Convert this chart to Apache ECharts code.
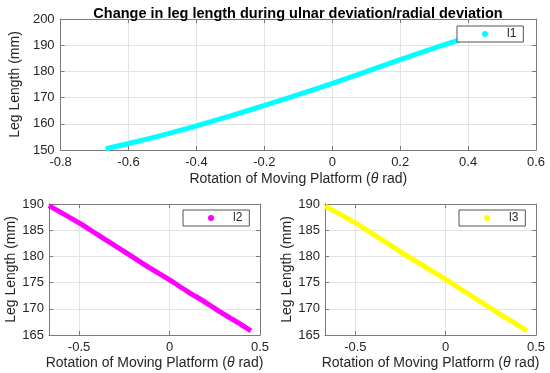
<!DOCTYPE html>
<html>
<head>
<meta charset="utf-8">
<script src="https://cdn.jsdelivr.net/npm/echarts@6/dist/echarts.min.js"></script>
<style>html,body{margin:0;padding:0;background:#fff}#c{width:550px;height:373px}</style>
</head>
<body>
<div id="c"></div>
<script>
const titleText = 'Change in leg length during ulnar deviation/radial deviation';
const yName = 'Leg Length (mm)';
const legendNames = ['l1', 'l2', 'l3'];

const theta1 = [-0.667, -0.6, -0.5, -0.4, -0.3, -0.2, -0.1, 0, 0.1, 0.2, 0.3, 0.4, 0.45];
const len1   = [150.5, 152.5, 155.7, 159.2, 163.0, 167.0, 171.1, 175.4, 179.9, 184.5, 188.9, 193.0, 195.0];

const theta2 = [-0.667, -0.5, -0.4, -0.3, -0.2, -0.1, 0, 0.1, 0.2, 0.3, 0.4, 0.45];
const len2   = [189.7, 186.4, 184.2, 182.0, 179.8, 177.6, 175.5, 173.3, 171.2, 169.0, 166.9, 165.8];

const theta3 = [-0.667, -0.5, -0.4, -0.3, -0.2, -0.1, 0, 0.1, 0.2, 0.3, 0.4, 0.45];
const len3   = [189.6, 186.4, 184.2, 182.0, 179.8, 177.7, 175.6, 173.4, 171.2, 169.0, 166.9, 165.8];

const xTicksBottom = [-0.5, 0, 0.5];

const FONT = 'Liberation Sans, Arial, sans-serif';
const lineCol = '#7a7a7a';
const labCol = '#262626';
const gridCol = '#e3e3e3';

function pairs(xs, ys) { return xs.map((x, i) => [x, ys[i]]); }

const xNameText = 'Rotation of Moving Platform ({t|θ} rad)';
const nameStyle = {fontFamily: FONT, fontSize: 14, color: labCol, rich: {t: {fontFamily: FONT, fontSize: 14, fontStyle: 'italic', color: labCol}}};

function mainX(gi, min, max, interval, custom, nameGap) {
  const ax = {
    type: 'value', gridIndex: gi, min: min, max: max, position: 'bottom',
    name: xNameText, nameLocation: 'middle', nameGap: nameGap, nameTextStyle: nameStyle,
    axisLine: {show: true, onZero: false, lineStyle: {color: lineCol, width: 1}},
    axisTick: {show: true, inside: true, length: 4, lineStyle: {color: lineCol}},
    axisLabel: {show: true, margin: 6, fontFamily: FONT, fontSize: 13, color: labCol, showMinLabel: true, showMaxLabel: true},
    splitLine: {show: true, lineStyle: {color: gridCol, width: 1}}
  };
  if (custom) {
    ax.axisTick.customValues = custom;
    ax.axisLabel.customValues = custom;
  } else {
    ax.interval = interval;
  }
  return ax;
}
function topX(gi, min, max, interval, custom) {
  const ax = {
    type: 'value', gridIndex: gi, min: min, max: max, position: 'top',
    axisLine: {show: true, onZero: false, lineStyle: {color: lineCol, width: 1}},
    axisTick: {show: true, inside: true, length: 4, lineStyle: {color: lineCol}},
    axisLabel: {show: false},
    splitLine: {show: false}
  };
  if (custom) { ax.axisTick.customValues = custom; ax.axisLabel.customValues = custom; }
  else ax.interval = interval;
  return ax;
}
function mainY(gi, min, max, interval, nameGap, margin) {
  return {
    type: 'value', gridIndex: gi, min: min, max: max, interval: interval, position: 'left',
    name: yName, nameLocation: 'middle', nameGap: nameGap, nameRotate: 90,
    nameTextStyle: {fontFamily: FONT, fontSize: 14, color: labCol},
    axisLine: {show: true, onZero: false, lineStyle: {color: lineCol, width: 1}},
    axisTick: {show: true, inside: true, length: 4, lineStyle: {color: lineCol}},
    axisLabel: {show: true, margin: margin, fontFamily: FONT, fontSize: 13, color: labCol},
    splitLine: {show: true, lineStyle: {color: gridCol, width: 1}}
  };
}
function rightY(gi, min, max, interval) {
  return {
    type: 'value', gridIndex: gi, min: min, max: max, interval: interval, position: 'right',
    axisLine: {show: true, onZero: false, lineStyle: {color: lineCol, width: 1}},
    axisTick: {show: true, inside: true, length: 4, lineStyle: {color: lineCol}},
    axisLabel: {show: false},
    splitLine: {show: false}
  };
}
function legend(name, left, top) {
  return {
    data: [{name: name, icon: 'circle'}],
    left: left, top: top, orient: 'horizontal',
    itemWidth: 6, itemHeight: 6,
    backgroundColor: '#fff', borderColor: '#555', borderWidth: 1, borderRadius: 0,
    padding: [2, 7, 2, 25],
    selectedMode: false,
    textStyle: {fontFamily: FONT, fontSize: 12, color: labCol, lineHeight: 12, padding: [0, 0, 0, 14]}
  };
}

const chart = echarts.init(document.getElementById('c'), null, {renderer: 'canvas'});
const colors = ['#00ffff', '#ff00ff', '#ffff00'];

chart.setOption({
  animation: false,
  backgroundColor: '#ffffff',
  title: {
    text: titleText, left: 293, top: 1, textAlign: 'center',
    textStyle: {fontFamily: FONT, fontSize: 14.5, fontWeight: 'bold', color: '#000'}
  },
  grid: [
    {left: 50, top: 19, width: 486, height: 131},
    {left: 49, top: 204, width: 211, height: 131},
    {left: 325, top: 204, width: 211, height: 131}
  ],
  xAxis: [
    mainX(0, -0.8, 0.6, 0.2, null, 22),
    mainX(1, -0.666, 0.5, null, xTicksBottom, 21),
    mainX(2, -0.668, 0.5, null, xTicksBottom, 21),
    topX(0, -0.8, 0.6, 0.2, null),
    topX(1, -0.666, 0.5, null, xTicksBottom),
    topX(2, -0.668, 0.5, null, xTicksBottom)
  ],
  yAxis: [
    mainY(0, 150, 200, 10, 31, 6),
    mainY(1, 165, 190, 5, 30, 5),
    mainY(2, 165, 190, 5, 30, 5),
    rightY(0, 150, 200, 10),
    rightY(1, 165, 190, 5),
    rightY(2, 165, 190, 5)
  ],
  legend: [
    legend(legendNames[0], 457, 26),
    legend(legendNames[1], 183, 210),
    legend(legendNames[2], 459, 210)
  ],
  series: [
    {name: legendNames[0], type: 'line', xAxisIndex: 0, yAxisIndex: 0, data: pairs(theta1, len1), smooth: 0.3, showSymbol: false, color: colors[0], lineStyle: {width: 5, color: colors[0]}, z: 3},
    {name: legendNames[1], type: 'line', xAxisIndex: 1, yAxisIndex: 1, data: pairs(theta2, len2), smooth: 0.3, showSymbol: false, color: colors[1], lineStyle: {width: 5, color: colors[1]}, z: 3},
    {name: legendNames[2], type: 'line', xAxisIndex: 2, yAxisIndex: 2, data: pairs(theta3, len3), smooth: 0.3, showSymbol: false, color: colors[2], lineStyle: {width: 5, color: colors[2]}, z: 3}
  ]
});
</script>
</body>
</html>
